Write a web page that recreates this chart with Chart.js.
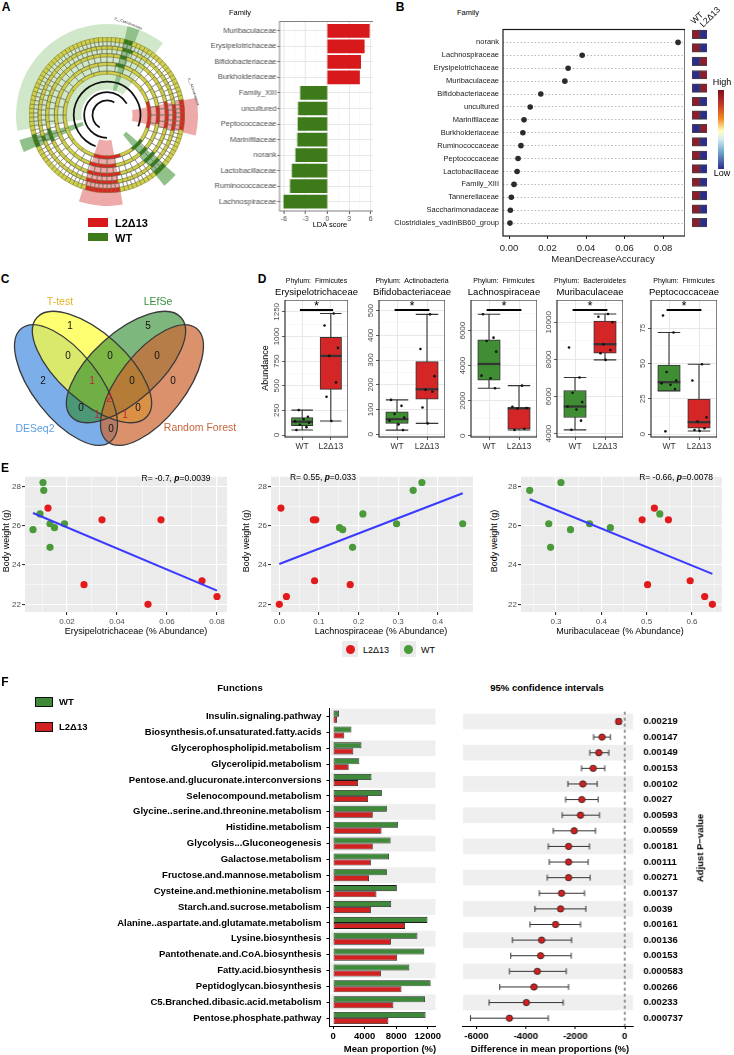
<!DOCTYPE html>
<html lang="en">
<head>
<meta charset="UTF-8">
<title>Gut microbiota and body weight</title>
<script src="https://cdn.jsdelivr.net/npm/chart.js"></script>
<style>
  html, body { margin: 0; padding: 0; background: #fff; }
  #page { position: relative; width: 734px; height: 1055px; overflow: hidden;
          font-family: 'Liberation Sans', Arial, Helvetica, sans-serif; color: #000; }
  .cv { position: absolute; }
  .t { position: absolute; white-space: nowrap; line-height: 1; z-index: 2; }
  .sw { position: absolute; z-index: 2; box-sizing: border-box; }
</style>
</head>
<body>
<div id="page"></div>
<script>
// ---------------- data ----------------
// A: LEfSe
const ldaFamilies = ['Muribaculaceae', 'Erysipelotrichaceae', 'Bifidobacteriaceae', 'Burkholderiaceae', 'Family_XIII',
  'uncultured', 'Peptococcaceae', 'Marinifilaceae', 'norank', 'Lactobacillaceae', 'Ruminococcaceae', 'Lachnospiraceae'];
const ldaScores = [5.8, 5.1, 4.6, 4.45, -3.7, -4.0, -4.05, -4.1, -4.35, -4.85, -5.1, -6.0];
const ldaTicks = [-6, -3, 0, 3, 6];

// A: cladogram, clade sectors in degrees clockwise from 12 o'clock
const cladeSpan = [13, 8, 17, 41, 24, 28, 10, 29, 28, 48, 8, 6, 100];
const cladeGroup = ['WT', 'WT+', 'WT', '', 'L2', '', 'WT+', '', 'L2', '', 'WT+', '', 'WT'];
const cladeNodes = [110, 80, 56, 36, 20];             // nodes per ring, outer to inner
const cladeBranches = [[110, 90, 160], [60, 120, 180], [30, 180, 150]];

// B: random forest
const rfFamilies = ['norank', 'Lachnospiraceae', 'Erysipelotrichaceae', 'Muribaculaceae', 'Bifidobacteriaceae',
  'uncultured', 'Marinifilaceae', 'Burkholderiaceae', 'Ruminococcaceae', 'Peptococcaceae', 'Lactobacillaceae',
  'Family_XIII', 'Tannerellaceae', 'Saccharimonadaceae', 'Clostridiales_vadinBB60_group'];
const rfMDA = [0.0878, 0.038, 0.0307, 0.029, 0.0165, 0.011, 0.0078, 0.0072, 0.0062, 0.0047, 0.0042, 0.0026, 0.0012, 0.0007, 0.0005];
const rfTicks = [0, 0.02, 0.04, 0.06, 0.08];
const rfHighWT = [1, 1, 0, 0, 0, 1, 1, 0, 1, 1, 1, 1, 1, 1, 1];
const rfHighL2 = [0, 0, 1, 1, 1, 0, 0, 1, 0, 0, 0, 0, 0, 0, 0];

// C: venn
const vennSets = ['DESeq2', 'T-test', 'LEfSe', 'Random Forest'];
const vennCounts = [1, 5, 0, 0, 0, 2, 1, 0, 0, 2, 0, 0, 1, 1, 0];
const vennShared = [0, 0, 0, 0, 0, 0, 1, 0, 0, 1, 0, 0, 1, 1, 0];

// D: boxplots, [lower whisker, Q1, median, Q3, upper whisker]
const boxGroups = ['WT', 'L2Δ13'];
const eryBox = [[51, 94, 135, 176, 253], [142, 463, 803, 990, 1233]];
const eryWT = [51, 80, 105, 125, 140, 160, 185, 253];
const eryL2 = [1233, 1111, 884, 803, 534, 388, 142];
const bifBox = [[17, 44, 61, 91, 139], [44, 142, 182, 294, 485]];
const bifWT = [139, 115, 82, 68, 55, 40, 17];
const bifL2 = [485, 345, 235, 180, 172, 108, 44];
const lacBox = [[2709, 3166, 4097, 5469, 6937], [326, 366, 1566, 1600, 2857]];
const lacWT = [6937, 5600, 5411, 4800, 3429, 3280, 2709];
const lacL2 = [2857, 1650, 1580, 1550, 400, 330];
const murBox = [[4204, 4871, 5462, 6323, 7022], [7973, 8333, 8817, 10070, 10446]];
const murWT = [8645, 7022, 6200, 5700, 5462, 5300, 4700, 4204];
const murL2 = [10446, 10300, 10000, 8817, 8500, 8333, 7973];
const pepBox = [[30.6, 30.6, 36.8, 49, 72], [2.3, 4.2, 8.5, 24.8, 49.5]];
const pepWT = [84, 72, 44, 38, 36, 35, 32, 2];
const pepL2 = [49.5, 38, 12, 9, 4.2, 3, 2.3];
const jitterWT = [-0.2, 0.15, -0.08, 0.24, -0.25, 0.05, 0.2, -0.12];
const jitterL2 = [0.1, -0.22, 0.25, -0.05, 0.18, -0.15, 0.02, 0.22];

// E: body weight vs abundance
const bodyWT = [28.2, 27.8, 26.6, 26.1, 26.1, 25.9, 25.8, 24.9];
const bodyL2 = [26.9, 26.3, 26.3, 23.2, 23.0, 22.4, 22.0];
const eryAbWT = [0.0104, 0.0107, 0.0092, 0.0132, 0.019, 0.015, 0.0064, 0.0132];
const eryAbL2 = [0.0124, 0.034, 0.0576, 0.074, 0.0268, 0.080, 0.0524];
const lacAbWT = [0.36, 0.338, 0.211, 0.296, 0.463, 0.152, 0.16, 0.185];
const lacAbL2 = [0.004, 0.086, 0.092, 0.089, 0.179, 0.018, 0.0];
const murAbWT = [0.311, 0.242, 0.529, 0.284, 0.374, 0.42, 0.332, 0.288];
const murAbL2 = [0.517, 0.49, 0.548, 0.596, 0.502, 0.628, 0.645];
const eryFit = [[0.0064, 26.65], [0.080, 22.7]];
const lacFit = [[0.0, 24.05], [0.463, 27.65]];
const murFit = [[0.242, 27.35], [0.645, 23.55]];
const weightTicks = [22, 24, 26, 28];

// F: PICRUSt functions
const functions = ['Insulin.signaling.pathway', 'Biosynthesis.of.unsaturated.fatty.acids', 'Glycerophospholipid.metabolism',
  'Glycerolipid.metabolism', 'Pentose.and.glucuronate.interconversions', 'Selenocompound.metabolism',
  'Glycine..serine.and.threonine.metabolism', 'Histidine.metabolism', 'Glycolysis...Gluconeogenesis', 'Galactose.metabolism',
  'Fructose.and.mannose.metabolism', 'Cysteine.and.methionine.metabolism', 'Starch.and.sucrose.metabolism',
  'Alanine..aspartate.and.glutamate.metabolism', 'Lysine.biosynthesis', 'Pantothenate.and.CoA.biosynthesis',
  'Fatty.acid.biosynthesis', 'Peptidoglycan.biosynthesis', 'C5.Branched.dibasic.acid.metabolism', 'Pentose.phosphate.pathway'];
const meanWT = [745, 2330, 3600, 3330, 4870, 6180, 6810, 8240, 7290, 7090, 6810, 8080, 7370, 11960, 10690, 11560, 9660, 12360, 11640, 11720];
const meanL2 = [510, 1420, 2570, 1980, 3170, 4440, 5030, 6140, 5030, 4790, 4550, 5500, 4790, 9110, 7330, 8120, 6060, 8670, 7640, 7010];
const diffMean = [-244, -919, -1049, -1278, -1695, -1735, -1789, -2044, -2273, -2273, -2273, -2556, -2596, -2798, -3363, -3403, -3537, -3672, -3981, -4667];
const diffLo = [-350, -1260, -1412, -1749, -2300, -2394, -2529, -2892, -3093, -3053, -3134, -3457, -3632, -3833, -4546, -4613, -4667, -5057, -5488, -6241];
const diffHi = [-146, -581, -646, -807, -1116, -1076, -1022, -1184, -1426, -1480, -1399, -1627, -1574, -1789, -2152, -2166, -2367, -2273, -2488, -3093];
const pAdj = ['0.00219', '0.00147', '0.00149', '0.00153', '0.00102', '0.0027', '0.00593', '0.00559', '0.00181', '0.00111',
  '0.00271', '0.00137', '0.0039', '0.00161', '0.00136', '0.00153', '0.000583', '0.00266', '0.00233', '0.000737'];
const meanTicks = [0, 4000, 8000, 12000];
const diffTicks = [-6000, -4000, -2000, 0];

// ---------------- setup ----------------
const FONT = "'Liberation Sans', Arial, Helvetica, sans-serif";
Chart.defaults.font.family = FONT;
Chart.defaults.color = '#4d4d4d';
Chart.defaults.animation = false;
Chart.defaults.events = [];
Chart.defaults.plugins.legend.display = false;
Chart.defaults.plugins.tooltip.enabled = false;

const page = document.getElementById('page');
const CLEAR = 'rgba(0,0,0,0)';

// chart placed so that its plot area is p = [x, y, w, h]; m = [top, right, bottom, left] room for axes
function makeChart(p, m, config) {
  const [x, y, w, h] = p, [mt, mr, mb, ml] = m;
  const box = document.createElement('div');
  box.className = 'cv';
  box.style.cssText = `left:${x - ml}px;top:${y - mt}px;width:${w + ml + mr}px;height:${h + mt + mb}px`;
  const cv = document.createElement('canvas');
  box.appendChild(cv);
  page.appendChild(box);
  const o = config.options = config.options || {};
  o.responsive = true;
  o.maintainAspectRatio = false;
  const pad = { top: mt, right: mr, bottom: mb, left: ml };
  Object.values(o.scales || {}).forEach(s => {
    if (s.display === false) return;
    if (s.position === 'left') { s.afterFit = sc => { sc.width = ml; }; pad.left = 0; }
    if (s.position === 'right') { s.afterFit = sc => { sc.width = mr; }; pad.right = 0; }
    if (s.position === 'bottom') { s.afterFit = sc => { sc.height = mb; }; pad.bottom = 0; }
  });
  o.layout = { autoPadding: false, padding: pad };
  return new Chart(cv, config);
}

function text(html, x, y, opt = {}) {
  const d = document.createElement('div');
  d.className = 't';
  d.innerHTML = html;
  const ax = opt.align === 'left' ? '0' : opt.align === 'right' ? '-100%' : '-50%';
  d.style.left = x + 'px';
  d.style.top = y + 'px';
  d.style.fontSize = (opt.size || 9) + 'px';
  if (opt.bold) d.style.fontWeight = 'bold';
  if (opt.color) d.style.color = opt.color;
  d.style.transform = `translate(${ax}, -50%)` + (opt.rot ? ` rotate(${opt.rot}deg)` : '');
  page.appendChild(d);
}

function swatch(x, y, w, h, css) {
  const d = document.createElement('div');
  d.className = 'sw';
  d.style.cssText = `left:${x}px;top:${y}px;width:${w}px;height:${h}px;` + css;
  page.appendChild(d);
}

const isMajor = c => !!(c.tick && c.tick.m);
const gridBW = { color: c => isMajor(c) ? '#e2e2e2' : '#f0f0f0', lineWidth: c => isMajor(c) ? 0.8 : 0.5,
  tickColor: c => isMajor(c) ? '#333' : CLEAR, tickLength: 3 };
const gridGG = { color: '#ffffff', lineWidth: c => isMajor(c) ? 1.1 : 0.5,
  tickColor: c => isMajor(c) ? '#333' : CLEAR, tickLength: 3 };
const lab = fmt => (v, i, ts) => (ts[i] && ts[i].m ? fmt(v) : '');

// major ticks plus minor gridlines half way
function ticksAt(major, minorStep) {
  return s => {
    const t = major.map(v => ({ value: v, m: true }));
    if (minorStep) {
      major.forEach(v => [-minorStep, minorStep].forEach(d => {
        const w = v + d;
        if (w > s.min && w < s.max && !t.some(o => Math.abs(o.value - w) < 1e-9)) t.push({ value: w, m: false });
      }));
    }
    t.sort((a, b) => a.value - b.value);
    s.ticks = t;
  };
}

const frame = (color, w) => ({ id: 'frame', afterDraw(c) {
  const a = c.chartArea, ctx = c.ctx;
  ctx.save(); ctx.strokeStyle = color; ctx.lineWidth = w;
  ctx.strokeRect(a.left, a.top, a.right - a.left, a.bottom - a.top); ctx.restore();
} });
const ggBack = { id: 'ggBack', beforeDraw(c) {
  const a = c.chartArea, ctx = c.ctx;
  ctx.save(); ctx.fillStyle = '#ebebeb'; ctx.fillRect(a.left, a.top, a.right - a.left, a.bottom - a.top); ctx.restore();
} };

// ---------------- A: cladogram ----------------
const SHADE = { 'WT': 'rgba(150,204,135,0.45)', 'WT+': 'rgba(72,152,60,0.6)', 'L2': 'rgba(222,84,84,0.5)', '': CLEAR };
const NODE = { 'WT': '#cfcf4a', 'WT+': '#2f7d1f', 'L2': '#e02424', '': '#cfcf4a' };
const cladeEdges = cladeSpan.reduce((acc, v) => acc.concat(acc[acc.length - 1] + v), [0]);
function cladeAt(deg) {
  for (let k = 0; k < cladeSpan.length; k++) if (deg < cladeEdges[k + 1]) return cladeGroup[k];
  return '';
}

makeChart([16, 24, 182, 182], [0, 0, 0, 0], {
  type: 'doughnut',
  data: { datasets: [{ data: cladeSpan, backgroundColor: cladeGroup.map(g => SHADE[g]), borderWidth: 0 }] },
  options: { cutout: '28%' }
});

const nodeRing = (n, w) => ({ data: new Array(n).fill(1), weight: w,
  backgroundColor: c => NODE[cladeAt((c.dataIndex + 0.5) * 360 / n)], borderColor: '#70702a', borderWidth: 0.5 });
const spokeRing = (n, w) => ({ data: new Array(n).fill(1), weight: w, backgroundColor: CLEAR, borderColor: '#555', borderWidth: 0.4 });
const gapRing = w => ({ data: [1], weight: w, backgroundColor: CLEAR, borderWidth: 0 });
const arcRing = (a, w) => ({ data: a, weight: w, backgroundColor: a.map((v, i) => (i % 2 ? CLEAR : '#111')), borderWidth: 0 });

makeChart([29, 37, 156, 156], [0, 0, 0, 0], {
  type: 'doughnut',
  data: { datasets: [
    nodeRing(cladeNodes[0], 4), spokeRing(cladeNodes[0], 4), nodeRing(cladeNodes[1], 3), spokeRing(cladeNodes[1], 4),
    nodeRing(cladeNodes[2], 3), spokeRing(cladeNodes[2], 5), nodeRing(cladeNodes[3], 3), spokeRing(cladeNodes[3], 5),
    nodeRing(cladeNodes[4], 3), gapRing(6),
    arcRing(cladeBranches[0], 1.6), gapRing(8), arcRing(cladeBranches[1], 1.6), gapRing(6), arcRing(cladeBranches[2], 1.6), gapRing(4)
  ] },
  options: { cutout: '12%' }
});

// ---------------- A: LDA bars ----------------
makeChart([279.3, 16, 93.7, 195], [0, 0, 20, 110], {
  type: 'bar',
  data: { datasets: [{
    data: ldaScores.map((v, i) => ({ x: v, y: i + 1 })),
    backgroundColor: ldaScores.map(v => (v > 0 ? '#d7191c' : '#3d7a19')),
    borderWidth: 0, barThickness: 13
  }] },
  options: {
    indexAxis: 'y',
    scales: {
      x: { type: 'linear', position: 'bottom', min: -6.59, max: 6.39, afterBuildTicks: ticksAt(ldaTicks, 1.5),
        grid: gridBW, border: { display: false },
        ticks: { autoSkip: false, maxRotation: 0, padding: 1, font: { size: 7 }, callback: lab(v => String(v)) } },
      y: { type: 'linear', position: 'left', reverse: true, min: 0.4, max: 12.6, offset: false,
        grid: Object.assign({}, gridBW, { offset: false, tickLength: 2 }), border: { display: false },
        afterBuildTicks: s => { s.ticks = ldaFamilies.map((f, i) => ({ value: i + 1, m: true })); },
        ticks: { autoSkip: false, padding: 1, font: { size: 7.5 }, callback: v => ldaFamilies[v - 1] } }
    }
  },
  plugins: [frame('#808080', 1)]
});

// ---------------- B: random forest ----------------
makeChart([503, 21, 182, 215], [0, 0, 30, 120], {
  type: 'scatter',
  data: { datasets: [{ data: rfMDA.map((v, i) => ({ x: v, y: i + 1 })), pointRadius: 2.8, backgroundColor: '#2b2b2b', borderWidth: 0 }] },
  options: { scales: {
    x: { type: 'linear', position: 'bottom', min: -0.00312, max: 0.0914, afterBuildTicks: ticksAt(rfTicks),
      grid: { drawOnChartArea: false, tickLength: 3, tickColor: '#222' }, border: { display: false },
      ticks: { autoSkip: false, maxRotation: 0, padding: 4, color: '#222', font: { size: 9.5 }, callback: lab(v => v.toFixed(2)) } },
    y: { type: 'linear', position: 'left', reverse: true, min: 0, max: 16,
      afterBuildTicks: s => { s.ticks = rfFamilies.map((f, i) => ({ value: i + 1, m: true })); },
      grid: { color: '#9a9a9a', lineWidth: 0.7, drawTicks: false }, border: { display: false, dash: [1.5, 2] },
      ticks: { autoSkip: false, padding: 4, color: '#1a1a1a', font: { size: 7.5 }, callback: v => rfFamilies[v - 1] } }
  } },
  plugins: [frame('#1a1a1a', 1.2)]
});

const HI = '#8e1c2c', LO = '#2b2c8c';
makeChart([691.5, 21, 15.6, 215], [0, 0, 0, 0], {
  type: 'bar',
  data: { datasets: [
    { data: rfHighWT.map((h, i) => ({ x: [0, 1], y: i + 1 })), backgroundColor: rfHighWT.map(h => (h ? HI : LO)) },
    { data: rfHighL2.map((h, i) => ({ x: [1, 2], y: i + 1 })), backgroundColor: rfHighL2.map(h => (h ? HI : LO)) }
  ] },
  options: {
    indexAxis: 'y',
    datasets: { bar: { grouped: false, barThickness: 8.5, borderColor: '#444', borderWidth: 1, borderSkipped: false } },
    scales: {
      x: { type: 'linear', display: false, min: 0, max: 2 },
      y: { type: 'linear', display: false, reverse: true, min: 0, max: 16, offset: false }
    }
  }
});

// ---------------- C: venn ----------------
// layout of the diagram (page pixels)
const vennCx = [66, 92, 126, 152], vennCy = [385, 367, 367, 385];
const vennRx = [72, 74, 74, 72], vennRy = [33, 34, 34, 33], vennRot = [52, 42, -42, -52];
const vennFill = ['rgba(74,144,226,0.72)', 'rgba(255,255,60,0.72)', 'rgba(46,139,46,0.62)', 'rgba(204,102,51,0.72)'];
const vennLx = [70, 148, 68, 110, 157, 43, 92, 132, 173, 109, 81, 138, 97, 125, 111];
const vennLy = [326, 326, 356, 356, 356, 381, 381, 381, 381, 399, 408, 408, 415, 415, 429];

const vennPlugin = {
  id: 'venn',
  beforeDatasetsDraw(c) {
    const ctx = c.ctx, sx = c.scales.x, sy = c.scales.y;
    const k = sx.getPixelForValue(1) - sx.getPixelForValue(0);
    const path = i => {
      ctx.beginPath();
      ctx.ellipse(sx.getPixelForValue(vennCx[i]), sy.getPixelForValue(vennCy[i]), vennRx[i] * k, vennRy[i] * k,
        vennRot[i] * Math.PI / 180, 0, 2 * Math.PI);
    };
    ctx.save();
    vennSets.forEach((s, i) => { path(i); ctx.fillStyle = vennFill[i]; ctx.fill(); });
    ctx.strokeStyle = '#3a3a3a'; ctx.lineWidth = 1.3;
    vennSets.forEach((s, i) => { path(i); ctx.stroke(); });
    ctx.restore();
  },
  afterDatasetsDraw(c) {
    const ctx = c.ctx, meta = c.getDatasetMeta(0);
    ctx.save();
    ctx.font = '10px ' + FONT; ctx.textAlign = 'center'; ctx.textBaseline = 'middle';
    meta.data.forEach((pt, i) => {
      ctx.fillStyle = vennShared[i] ? '#c41e3a' : '#111';
      ctx.fillText(String(vennCounts[i]), pt.x, pt.y);
    });
    ctx.restore();
  }
};
makeChart([0, 295, 260, 160], [0, 0, 0, 0], {
  type: 'scatter',
  data: { datasets: [{ data: vennCounts.map((n, i) => ({ x: vennLx[i], y: vennLy[i] })), pointRadius: 0 }] },
  options: { scales: {
    x: { type: 'linear', display: false, min: 0, max: 260 },
    y: { type: 'linear', display: false, min: 295, max: 455, reverse: true }
  } },
  plugins: [vennPlugin]
});

// ---------------- D: boxplots ----------------
function boxPlugin(st) {
  return {
    id: 'box',
    beforeDatasetsDraw(c) {
      const sx = c.scales.x, sy = c.scales.y, ctx = c.ctx;
      const half = sx.getPixelForValue(1.375) - sx.getPixelForValue(1);
      ctx.save(); ctx.strokeStyle = '#333'; ctx.lineWidth = 1.1;
      st.forEach((s, i) => {
        const cx = sx.getPixelForValue(i + 1);
        ctx.beginPath();
        ctx.moveTo(cx, sy.getPixelForValue(s[0])); ctx.lineTo(cx, sy.getPixelForValue(s[4]));
        [s[0], s[4]].forEach(v => { const y = sy.getPixelForValue(v); ctx.moveTo(cx - half, y); ctx.lineTo(cx + half, y); });
        ctx.stroke();
      });
      ctx.restore();
    },
    afterDatasetDraw(c, args) {
      if (args.index !== 1) return;
      const sx = c.scales.x, sy = c.scales.y, ctx = c.ctx;
      const half = sx.getPixelForValue(1.375) - sx.getPixelForValue(1);
      ctx.save(); ctx.strokeStyle = '#333'; ctx.lineWidth = 2.2;
      st.forEach((s, i) => {
        const cx = sx.getPixelForValue(i + 1), y = sy.getPixelForValue(s[2]);
        ctx.beginPath(); ctx.moveTo(cx - half, y); ctx.lineTo(cx + half, y); ctx.stroke();
      });
      ctx.restore();
    },
    afterDatasetsDraw(c) {
      const sx = c.scales.x, ctx = c.ctx, y = c.chartArea.top + 10;
      ctx.save(); ctx.strokeStyle = '#000'; ctx.lineWidth = 1.8;
      ctx.beginPath(); ctx.moveTo(sx.getPixelForValue(0.92), y); ctx.lineTo(sx.getPixelForValue(2.08), y); ctx.stroke();
      ctx.restore();
    }
  };
}
const rotLabels = { id: 'rotLabels', afterDraw(c) {
  const s = c.scales.y, ctx = c.ctx;
  ctx.save(); ctx.font = '8px ' + FONT; ctx.fillStyle = '#4d4d4d'; ctx.textAlign = 'center'; ctx.textBaseline = 'bottom';
  s.ticks.forEach(t => {
    if (!t.m) return;
    ctx.save(); ctx.translate(c.chartArea.left - 4, s.getPixelForValue(t.value)); ctx.rotate(-Math.PI / 2);
    ctx.fillText(String(t.value), 0, 0); ctx.restore();
  });
  ctx.restore();
} };

function boxPanel(p, st, ptsWT, ptsL2, ylim, yMajor, yMinor) {
  const unit = p[2] / 2.2;
  const pts = ptsWT.map((v, i) => ({ x: 1 + jitterWT[i], y: v })).concat(ptsL2.map((v, i) => ({ x: 2 + jitterL2[i], y: v })));
  makeChart(p, [0, 0, 17, 14], {
    type: 'bar',
    data: { datasets: [
      { type: 'scatter', order: 1, data: pts, pointRadius: 1.3, backgroundColor: '#111', borderWidth: 0 },
      { type: 'bar', order: 2, data: st.map((s, i) => ({ x: i + 1, y: [s[1], s[3]] })), backgroundColor: ['#3f8e34', '#d42626'],
        borderColor: '#333', borderWidth: 1, borderSkipped: false, barThickness: unit * 0.75 }
    ] },
    options: { scales: {
      x: { type: 'linear', position: 'bottom', min: 0.4, max: 2.6, offset: false, grid: Object.assign({}, gridBW, { offset: false }),
        border: { display: false },
        afterBuildTicks: s => { s.ticks = boxGroups.map((g, i) => ({ value: i + 1, m: true })); },
        ticks: { autoSkip: false, maxRotation: 0, padding: 2, color: '#333', font: { size: 8.5 }, callback: v => boxGroups[v - 1] } },
      y: { type: 'linear', position: 'left', min: ylim[0], max: ylim[1], grid: gridBW, border: { display: false },
        afterBuildTicks: ticksAt(yMajor, yMinor), ticks: { display: false } }
    } },
    plugins: [boxPlugin(st), rotLabels, frame('#333', 1.2)]
  });
}
boxPanel([285, 300, 63, 137], eryBox, eryWT, eryL2, [-20, 1370], [0, 250, 500, 750, 1000, 1250], 125);
boxPanel([379, 300, 66, 137], bifBox, bifWT, bifL2, [-11, 543], [0, 100, 200, 300, 400, 500], 50);
boxPanel([471, 300, 66, 137], lacBox, lacWT, lacL2, [-75, 7750], [0, 2000, 4000, 6000], 1000);
boxPanel([557, 300, 66, 137], murBox, murWT, murL2, [3820, 11200], [4000, 6000, 8000, 10000], 1000);
boxPanel([651, 300, 66, 137], pepBox, pepWT, pepL2, [-2, 95], [0, 25, 50, 75], 12.5);

// ---------------- E: correlations ----------------
function corrPanel(p, ml, abWT, abL2, fit, xlim, xMajor, xMinor, digits) {
  makeChart(p, [0, 0, 16, ml], {
    type: 'scatter',
    data: { datasets: [
      { type: 'line', order: 0, data: fit.map(f => ({ x: f[0], y: f[1] })), borderColor: '#3a3aff', borderWidth: 2, pointRadius: 0 },
      { order: 1, data: abWT.map((x, i) => ({ x, y: bodyWT[i] })), backgroundColor: '#4a9a3a', pointRadius: 3.6, borderWidth: 0 },
      { order: 1, data: abL2.map((x, i) => ({ x, y: bodyL2[i] })), backgroundColor: '#e31a1c', pointRadius: 3.6, borderWidth: 0 }
    ] },
    options: { scales: {
      x: { type: 'linear', position: 'bottom', min: xlim[0], max: xlim[1], afterBuildTicks: ticksAt(xMajor, xMinor),
        grid: gridGG, border: { display: false },
        ticks: { autoSkip: false, maxRotation: 0, padding: 2, font: { size: 8 }, callback: lab(v => v.toFixed(digits)) } },
      y: { type: 'linear', position: 'left', min: 21.61, max: 28.49, afterBuildTicks: ticksAt(weightTicks, 1),
        grid: gridGG, border: { display: false },
        ticks: { autoSkip: false, padding: 1, font: { size: 8 }, callback: lab(v => String(v)) } }
    } },
    plugins: [ggBack]
  });
}
corrPanel([25, 471, 202, 141], 25, eryAbWT, eryAbL2, eryFit, [0.0032, 0.084], [0.02, 0.04, 0.06, 0.08], 0.01, 2);
corrPanel([271, 471, 202, 141], 20, lacAbWT, lacAbL2, lacFit, [-0.021, 0.489], [0, 0.1, 0.2, 0.3, 0.4], 0.05, 1);
corrPanel([521, 471, 201, 141], 20, murAbWT, murAbL2, murFit, [0.2228, 0.6662], [0.3, 0.4, 0.5, 0.6], 0.05, 1);

// ---------------- F: functions ----------------
const rowBands = { id: 'bands', beforeDatasetsDraw(c) {
  const a = c.chartArea, s = c.scales.y, ctx = c.ctx, h = (a.bottom - a.top) / functions.length;
  ctx.save(); ctx.fillStyle = '#efefef';
  functions.forEach((f, i) => {
    if (i % 2) return;
    const y = s.getPixelForValue(i);
    ctx.fillRect(a.left + 1, y - h / 2, a.right - a.left - 1, h);
  });
  ctx.restore();
} };
const boldTicks = { autoSkip: false, maxRotation: 0, color: '#000', font: { size: 9.5, weight: 'bold' } };

makeChart([329.5, 698.3, 113.5, 328], [0, 0, 29, 329.5], {
  type: 'bar',
  data: { labels: functions, datasets: [
    { data: meanWT, backgroundColor: '#3f8a3a', borderColor: '#1a1a1a', borderWidth: 0.8 },
    { data: meanL2, backgroundColor: '#d12222', borderColor: '#1a1a1a', borderWidth: 0.8 }
  ] },
  options: {
    indexAxis: 'y',
    datasets: { bar: { categoryPercentage: 0.76, barPercentage: 1, borderSkipped: false } },
    scales: {
      x: { type: 'linear', position: 'bottom', min: -450, max: 12980, afterBuildTicks: ticksAt(meanTicks),
        grid: { drawOnChartArea: false, tickLength: 3, tickColor: '#000' }, border: { color: '#000', width: 1 },
        ticks: Object.assign({ padding: 2, callback: lab(v => String(v)) }, boldTicks) },
      y: { type: 'category', position: 'left', offset: true,
        grid: { drawOnChartArea: false, offset: false, tickLength: 3, tickColor: '#000' }, border: { color: '#000', width: 1 },
        ticks: Object.assign({ padding: 5 }, boldTicks) }
    }
  },
  plugins: [rowBands]
});

const ciBars = { id: 'ci', beforeDatasetsDraw(c) {
  const a = c.chartArea, sx = c.scales.x, sy = c.scales.y, ctx = c.ctx;
  ctx.save();
  ctx.strokeStyle = '#777'; ctx.lineWidth = 1.5; ctx.setLineDash([3, 3]);
  const x0 = sx.getPixelForValue(0);
  ctx.beginPath(); ctx.moveTo(x0, a.top - 2); ctx.lineTo(x0, a.bottom); ctx.stroke();
  ctx.setLineDash([]); ctx.strokeStyle = '#333'; ctx.lineWidth = 1;
  functions.forEach((f, i) => {
    const y = sy.getPixelForValue(i), l = sx.getPixelForValue(diffLo[i]), r = sx.getPixelForValue(diffHi[i]);
    ctx.beginPath();
    ctx.moveTo(l, y); ctx.lineTo(r, y);
    ctx.moveTo(l, y - 3); ctx.lineTo(l, y + 3);
    ctx.moveTo(r, y - 3); ctx.lineTo(r, y + 3);
    ctx.stroke();
  });
  ctx.restore();
} };

makeChart([462.3, 698.3, 170.4, 328], [0, 62, 29, 0], {
  type: 'scatter',
  data: { datasets: [{ data: diffMean.map((d, i) => ({ x: d, y: functions[i] })), pointRadius: 3.2,
    backgroundColor: '#d41f1f', borderColor: '#222', borderWidth: 0.8 }] },
  options: { scales: {
    x: { type: 'linear', position: 'bottom', min: -6585, max: 341, afterBuildTicks: ticksAt(diffTicks),
      grid: { drawOnChartArea: false, tickLength: 3, tickColor: '#000' }, border: { color: '#000', width: 1 },
      ticks: Object.assign({ padding: 2, callback: lab(v => String(v)) }, boldTicks) },
    y: { type: 'category', display: false, labels: functions, offset: true },
    y2: { type: 'category', position: 'right', labels: pAdj, min: 0, max: pAdj.length - 1, offset: true,
      grid: { display: false, drawTicks: false }, border: { display: false },
      ticks: Object.assign({ padding: 10 }, boldTicks) }
  } },
  plugins: [rowBands, ciBars]
});

// ---------------- text and keys ----------------
text('A', 6, 7, { size: 12, bold: true });
text('B', 400, 7, { size: 12, bold: true });
text('C', 5, 279, { size: 12, bold: true });
text('D', 262, 279, { size: 12, bold: true });
text('E', 5, 468, { size: 12, bold: true });
text('F', 5, 682, { size: 12, bold: true });

// A
text('p__Cyanobacteria', 128, 24, { size: 3.6, color: '#333', rot: 22 });
text('p__Actinobacteria', 193, 92, { size: 3.6, color: '#333', rot: 72 });
swatch(88, 218, 20, 9, 'background:#d7191c;');
swatch(88, 233, 20, 8, 'background:#3d7a19;');
text('L2Δ13', 115, 222.5, { size: 11, bold: true, align: 'left' });
text('WT', 115, 237.5, { size: 11, bold: true, align: 'left' });
text('Family', 240, 13, { size: 7.5 });
text('LDA score', 330, 225, { size: 7.5 });

// B
text('Family', 468, 13, { size: 7.5 });
text('MeanDecreaseAccuracy', 603, 259, { size: 9.5, color: '#222' });
text('WT', 696.5, 18, { size: 8.5, rot: -45 });
text('L2Δ13', 710, 17, { size: 8.5, rot: -45 });
swatch(718, 90, 5.5, 79, 'background:linear-gradient(to bottom,#7f0d1e,#c0392b 18%,#f08a24 36%,#ffffbf 52%,#d6ecf3 62%,#74a9cf 78%,#2c2c8c);');
text('High', 722, 82, { size: 9 });
text('Low', 722, 173, { size: 9 });

// C
text('T-test', 60, 301, { size: 10.5, color: '#e6b422' });
text('LEfSe', 158, 301, { size: 10.5, color: '#3b8f3b' });
text('DESeq2', 35, 428, { size: 10.5, color: '#5b9ee6' });
text('Random Forest', 200, 427, { size: 10.5, color: '#c8643c' });

// D
const dTitles = [['Firmicutes', 'Erysipelotrichaceae', 316.5], ['Actinobacteria', 'Bifidobacteriaceae', 412],
  ['Firmicutes', 'Lachnospiraceae', 504], ['Bacteroidetes', 'Muribaculaceae', 590], ['Firmicutes', 'Peptococcaceae', 684]];
dTitles.forEach(t => {
  text('Phylum:&nbsp; ' + t[0], t[2], 280, { size: 7 });
  text(t[1], t[2], 291.5, { size: 9.5 });
  text('*', t[2], 305, { size: 13 });
});
text('Abundance', 265, 368, { size: 9, rot: -90 });

// E
text('R= -0.7, <b><i>p</i></b>=0.0039', 176, 478, { size: 8.5 });
text('R= 0.55, <b><i>p</i></b>=0.033', 323, 477, { size: 8.5 });
text('R= -0.66, <b><i>p</i></b>=0.0078', 676, 477, { size: 8.5 });
text('Erysipelotrichaceae (% Abundance)', 136, 631, { size: 9 });
text('Lachnospiraceae (% Abundance)', 381, 631, { size: 9 });
text('Muribaculaceae (% Abundance)', 620, 631, { size: 9 });
text('Body weight (g)', 6, 541, { size: 9, rot: -90 });
text('Body weight (g)', 246, 541, { size: 9, rot: -90 });
text('Body weight (g)', 494, 541, { size: 9, rot: -90 });
swatch(342, 641, 16, 16, 'background:#ebebeb;');
swatch(345.5, 644.5, 9, 9, 'background:#e31a1c;border-radius:50%;');
text('L2Δ13', 363, 649.5, { size: 9, align: 'left' });
swatch(400, 641, 16, 16, 'background:#ebebeb;');
swatch(403.5, 644.5, 9, 9, 'background:#4a9a3a;border-radius:50%;');
text('WT', 421, 649.5, { size: 9, align: 'left' });

// F
swatch(35, 697, 18, 10, 'background:#3f8a3a;border:1px solid #111;');
swatch(35, 722, 18, 10, 'background:#d12222;border:1px solid #111;');
text('WT', 59, 702, { size: 9.5, bold: true, align: 'left' });
text('L2Δ13', 59, 727, { size: 9.5, bold: true, align: 'left' });
text('Functions', 240, 688, { size: 9.5, bold: true });
text('95% confidence intervals', 547, 688, { size: 9.5, bold: true });
text('Mean proportion (%)', 390, 1049, { size: 9.5, bold: true });
text('Difference in mean proportions (%)', 550, 1049, { size: 9.5, bold: true });
text('Adjust P−value', 700, 848, { size: 9.5, bold: true, rot: -90 });
</script>
</body>
</html>
